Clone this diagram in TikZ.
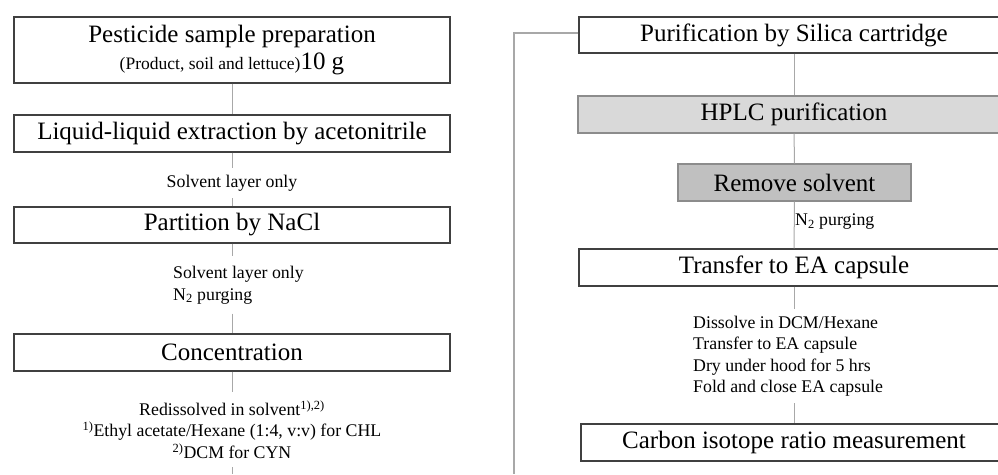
\documentclass[tikz,border=0pt]{standalone}
\usepackage{fontspec}
\setmainfont{Liberation Serif}
\definecolor{boxline}{HTML}{404040}
\definecolor{conn}{HTML}{A8A8A8}
\definecolor{lightfill}{HTML}{D9D9D9}
\definecolor{darkfill}{HTML}{C0C0C0}
\definecolor{greyline}{HTML}{8C8C8C}
\newcommand{\bigtxt}{\fontsize{25}{29}\selectfont}
\newcommand{\smalltxt}{\fontsize{17.8}{21.5}\selectfont}
\begin{document}
\begin{tikzpicture}[x=1pt,y=-1pt,
  stepbox/.style={draw=boxline,line width=1.3pt,fill=white,inner sep=0pt,
    minimum width=436pt,minimum height=37pt,font=\bigtxt,align=center},
  greybox/.style={stepbox,draw=greyline,line width=1.1pt},
  lab/.style={inner sep=0pt,font=\smalltxt},
  conn/.style={draw=conn,line width=1pt}]
\clip (0,0) rectangle (998,474);
\fill[white] (0,0) rectangle (998,474);
% left column
\node[stepbox,minimum height=66pt] (l1) at (232,50) {Pesticide sample preparation\\[-2pt]{\fontsize{17.5}{20}\selectfont(Product, soil and lettuce)}10 g};
\node[stepbox] (l2) at (232,133.5) {Liquid-liquid extraction by acetonitrile};
\node[stepbox,minimum height=36pt] (l3) at (232,225) {Partition by NaCl};
\node[stepbox] (l4) at (232,352.5) {Concentration};
\node[lab,minimum height=30pt] (la) at (232,183) {Solvent layer only};
\node[lab,minimum height=57pt,align=left,anchor=west] (lb) at (173,285) {Solvent layer only\\N\textsubscript{2} purging};
\node[lab,minimum height=75pt,align=center] (lc) at (232,429.5) {Redissolved in solvent\textsuperscript{1),2)}\\\textsuperscript{1)}Ethyl acetate/Hexane (1:4, v:v) for CHL\\\textsuperscript{2)}DCM for CYN};
\coordinate (lend) at (232,474);
\draw[conn] (l1) -- (l2);
\draw[conn] (l2) -- (la);
\draw[conn] (la) -- (l3);
\draw[conn] (l3.south) -- (l3.south |- lb.north);
\draw[conn] (l3.south |- lb.south) -- (l4.north);
\draw[conn] (l4) -- (lc);
\draw[conn] (lc) -- (lend);
% right column
\node[stepbox,minimum width=430pt,minimum height=36pt] (r1) at (794,35) {Purification by Silica cartridge};
\node[greybox,fill=lightfill,minimum width=432pt] (r2) at (794,114.5) {HPLC purification};
\node[greybox,fill=darkfill,minimum width=233pt] (r3) at (794.5,182.5) {Remove solvent};
\node[stepbox,minimum width=430pt] (r4) at (794,267.5) {Transfer to EA capsule};
\node[stepbox,minimum width=426pt] (r5) at (794,442.5) {Carbon isotope ratio measurement};
\node[lab,anchor=west] (ra) at (795,222) {N\textsubscript{2} purging};
\node[lab,minimum height=94pt,align=left,anchor=west] (rb) at (693,356) {Dissolve in DCM/Hexane\\Transfer to EA capsule\\Dry under hood for 5 hrs\\Fold and close EA capsule};
\coordinate (rturn) at (514,33);
\coordinate (rend) at (514,474);
\draw[conn] (r1) -- (r2);
\draw[conn] (r2) -- (r3);
\draw[conn] (r3) -- (r4);
\draw[conn] (r4.south) -- (r4.south |- rb.north);
\draw[conn] (r4.south |- rb.south) -- (r5.north);
\draw[conn,line width=1.3pt] (r1.west |- rturn) -- (rturn) -- (rend);
\end{tikzpicture}
\end{document}
